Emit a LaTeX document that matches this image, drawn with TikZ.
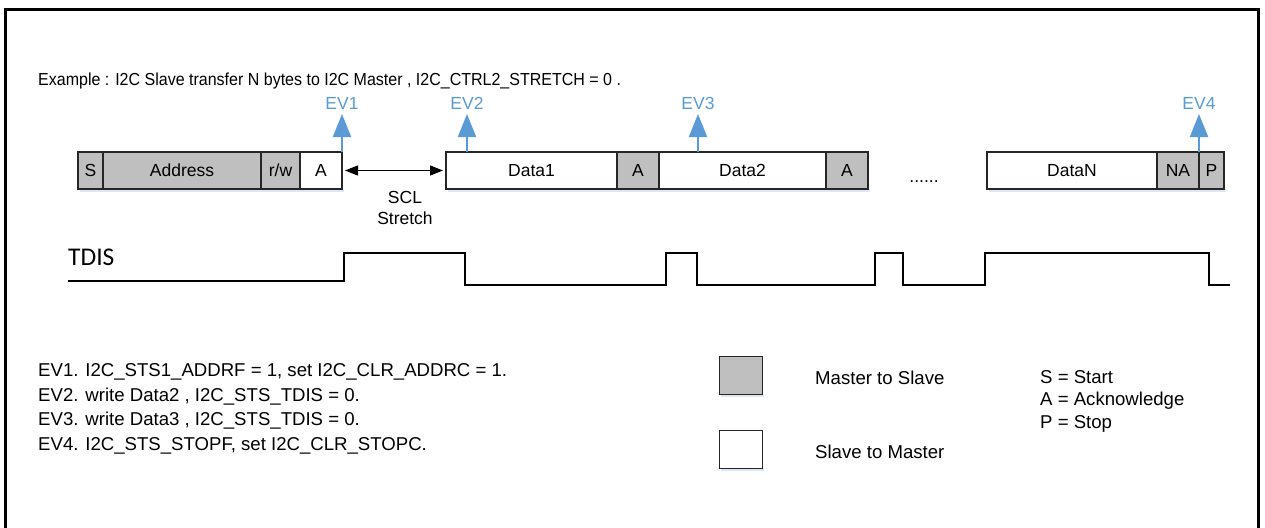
\documentclass[tikz,border=0pt]{standalone}
\usepackage{fontspec}
\setmainfont{Liberation Sans}
\newfontfamily\tdisfont{Carlito}
\newfontfamily\narrowfont[FakeStretch=0.92]{Liberation Sans}
\usetikzlibrary{arrows.meta}
\definecolor{evblue}{HTML}{5B9BD5}
\definecolor{boxgray}{HTML}{BFBFBF}
\definecolor{shadowblue}{HTML}{DDE7F3}
\newcommand\myfs{\fontsize{17.5}{21}\selectfont}
\newcommand\titlefs{\narrowfont\fontsize{17.4}{21}\selectfont}
\newcommand\lowfs{\fontsize{18.6}{22}\selectfont}
\begin{document}
\begin{tikzpicture}[x=1pt,y=-1pt,
  box/.style={draw=black!85, line width=1.2pt, minimum height=37pt, inner sep=0pt, outer sep=0pt, anchor=north west, font=\myfs, text=black},
  gbox/.style={box, fill=boxgray},
  wbox/.style={box, fill=white},
  evarrow/.style={draw=evblue, line width=2pt, -{Triangle[length=23pt,width=18pt,fill=evblue]}},
  evlab/.style={text=evblue, font=\myfs, inner sep=0pt, anchor=base},
  txt/.style={font=\myfs, inner sep=0pt, text=black},
  lowtxt/.style={font=\lowfs, inner sep=0pt, text=black, anchor=base west},
  legbox/.style={draw=black!85, line width=1.2pt, minimum width=43pt, minimum height=38pt, inner sep=0pt, anchor=north west},
  wave/.style={line width=1.8pt, black}
]
\useasboundingbox (0,0) rectangle (1265,527);
\clip (0,0) rectangle (1265,527);
\fill[white] (0,0) rectangle (1265,527);
% frame
\draw[line width=3pt] (5.3,540) -- (5.3,10) -- (1258.5,10) -- (1258.5,540);

% title
\node[font=\titlefs, inner sep=0pt, anchor=base west] (title) at (38,85) {Example : I2C Slave transfer N bytes to I2C Master , I2C\_CTRL2\_STRETCH = 0 .};

% shadows
\fill[shadowblue] (80,189) rectangle (344,192);
\fill[shadowblue] (448,189) rectangle (870,192);
\fill[shadowblue] (989,189) rectangle (1226,192);

% frame boxes
\node[gbox,minimum width=25pt] (s) at (78,152) {S};
\node[gbox,minimum width=158pt] (addr) at (103,152) {Address};
\node[gbox,minimum width=39pt] (rw) at (261,152) {r/w};
\node[wbox,minimum width=42pt] (a1) at (300,152) {A};
\node[wbox,minimum width=171pt] (d1) at (446,152) {Data1};
\node[gbox,minimum width=42pt] (a2) at (617,152) {A};
\node[wbox,minimum width=167pt] (d2) at (659,152) {Data2};
\node[gbox,minimum width=42pt] (a3) at (826,152) {A};
\node[wbox,minimum width=170pt] (dn) at (987,152) {DataN};
\node[gbox,minimum width=42pt] (na) at (1157,152) {NA};
\node[gbox,minimum width=25pt] (p) at (1199,152) {P};

\node[txt, anchor=base] (dots) at (924,182) {......};

% EV arrows
\node[evlab] (ev1) at (342,109) {EV1};
\node[evlab] (ev2) at (467,109) {EV2};
\node[evlab] (ev3) at (698,109) {EV3};
\node[evlab] (ev4) at (1199,109) {EV4};
\coordinate (b2) at (467,152);
\coordinate (b3) at (698,152);
\coordinate (t1) at (342,114);
\coordinate (t2) at (467,114);
\coordinate (t3) at (698,114);
\coordinate (t4) at (1199,114);
\draw[evarrow] (a1.north east) -- (t1);
\draw[evarrow] (b2) -- (t2);
\draw[evarrow] (b3) -- (t3);
\draw[evarrow] (na.north east) -- (t4);

% SCL stretch
\draw[line width=1.2pt, {Triangle[length=13pt,width=10pt]}-{Triangle[length=13pt,width=10pt]}] ([xshift=3pt]a1.east) -- ([xshift=-3pt]d1.west);
\node[txt, anchor=base] (scl) at (405,203) {SCL};
\node[txt, anchor=base] (str) at (405,224) {Stretch};

% TDIS
\node[inner sep=0pt, anchor=base west, font=\tdisfont\fontsize{25.5}{28}\selectfont] (tdis) at (68,265) {TDIS};
\draw[wave] (68,281) -- (344,281) -- (344,253) -- (465,253) -- (465,285) -- (666,285) -- (666,253) -- (697,253) -- (697,285) -- (875,285) -- (875,253) -- (903,253) -- (903,285) -- (985,285) -- (985,253) -- (1209,253) -- (1209,285) -- (1230,285);

% event descriptions
\node[lowtxt] (l1) at (38,376) {EV1. I2C\_STS1\_ADDRF = 1, set I2C\_CLR\_ADDRC = 1.};
\node[lowtxt] (l2) at (38,401) {EV2. write Data2 , I2C\_STS\_TDIS = 0.};
\node[lowtxt] (l3) at (38,425) {EV3. write Data3 , I2C\_STS\_TDIS = 0.};
\node[lowtxt] (l4) at (38,450) {EV4. I2C\_STS\_STOPF, set I2C\_CLR\_STOPC.};

% legend
\fill[shadowblue] (721,394) rectangle (764,397);
\fill[shadowblue] (721,468) rectangle (764,471);
\node[legbox, fill=boxgray] (lg) at (719,356) {};
\node[legbox, fill=white] (lw) at (719,430) {};
\node[lowtxt] (mts) at (815,384) {Master to Slave};
\node[lowtxt] (stm) at (815,458) {Slave to Master};
\node[lowtxt] (k1) at (1040,383) {S = Start};
\node[lowtxt] (k2) at (1040,405) {A = Acknowledge};
\node[lowtxt] (k3) at (1040,428) {P = Stop};
\end{tikzpicture}
\end{document}
